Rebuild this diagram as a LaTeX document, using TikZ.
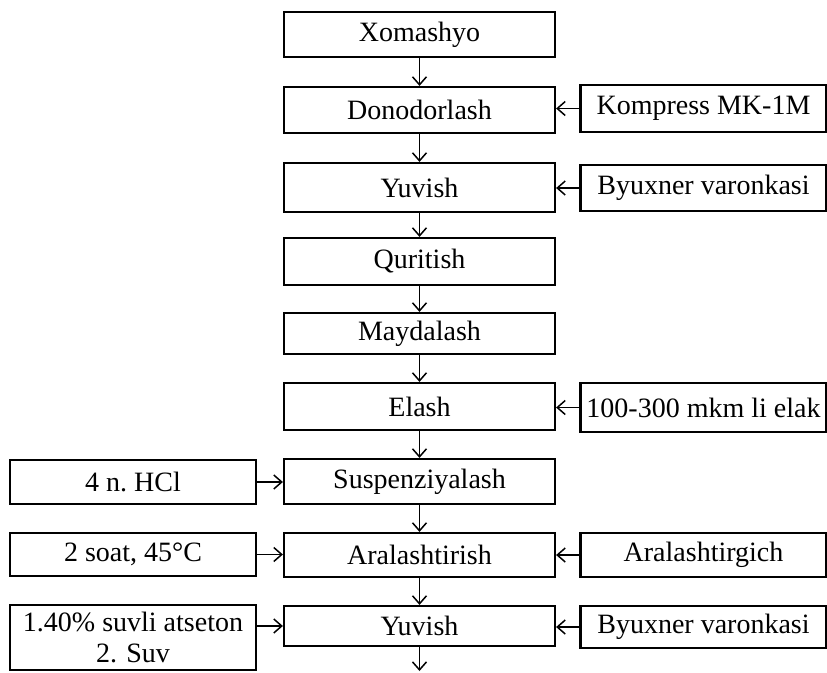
\documentclass[tikz,border=0pt]{standalone}
\usepackage{fontspec}
\setmainfont{Liberation Serif}
\usetikzlibrary{arrows.meta}
\begin{document}
\begin{tikzpicture}[x=1pt,y=-1pt,
  box/.style={draw,line width=2.2pt,rectangle,inner sep=0pt,
    font=\fontsize{28}{32}\selectfont,align=center},
  mainbox/.style={box,minimum width=271pt},
  sidebox/.style={box,minimum width=246pt},
  flow/.style={line width=1.5pt,-{Straight Barb[length=8pt,width=14pt,line width=1.5pt]}}]
\useasboundingbox (0,0) rectangle (827,672);

% main process column
\node[mainbox,minimum height=45pt] (xom)  at (419.5,34.5)  {Xomashyo};
\node[mainbox,minimum height=46pt] (don)  at (419.5,110)   {Donodorlash};
\node[mainbox,minimum height=49pt] (yuv1) at (419.5,187.5) {Yuvish};
\node[mainbox,minimum height=47pt] (qur)  at (419.5,261.5) {Quritish};
\node[mainbox,minimum height=41pt] (may)  at (419.5,333.5) {Maydalash};
\node[mainbox,minimum height=47pt] (ela)  at (419.5,406.5) {Elash};
\node[mainbox,minimum height=45pt] (sus)  at (419.5,481.5) {Suspenziyalash};
\node[mainbox,minimum height=44pt] (ara)  at (419.5,555)   {Aralashtirish};
\node[mainbox,minimum height=40pt] (yuv2) at (419.5,626)   {Yuvish};
\coordinate (out) at (419.5,671);

% equipment on the right
\node[sidebox,minimum height=47pt] (komp) at (703.5,108.5) {Kompress MK-1M};
\node[sidebox,minimum height=46pt] (byx1) at (703.5,188)   {Byuxner varonkasi};
\node[sidebox,minimum height=49pt] (elak) at (703.5,407.5) {100-300 mkm li elak};
\node[sidebox,minimum height=44pt] (arg)  at (703.5,555)   {Aralashtirgich};
\node[sidebox,minimum height=42pt] (byx2) at (703.5,627)   {Byuxner varonkasi};

% reagents and conditions on the left
\node[sidebox,minimum height=44pt] (hcl)  at (133,482)   {4 n.\ HCl};
\node[sidebox,minimum height=43pt] (soat) at (133,554.5) {2 soat, 45\char"00B0 C};
\node[sidebox,minimum height=65pt,font=\fontsize{28}{31}\selectfont] (ats) at (133,637.5)
  {1.40\% suvli atseton\\2. Suv};

% vertical flow
\draw[flow] (xom)  -- (don);
\draw[flow] (don)  -- (yuv1);
\draw[flow] (yuv1) -- (qur);
\draw[flow] (qur)  -- (may);
\draw[flow] (may)  -- (ela);
\draw[flow] (ela)  -- (sus);
\draw[flow] (sus)  -- (ara);
\draw[flow] (ara)  -- (yuv2);
\draw[flow] (yuv2) -- (out);

% side inputs
\draw[flow] (komp.west) -- (komp.west -| don.east);
\draw[flow] (byx1.west) -- (byx1.west -| yuv1.east);
\draw[flow] (elak.west) -- (elak.west -| ela.east);
\draw[flow] (arg.west)  -- (arg.west -| ara.east);
\draw[flow] (byx2.west) -- (byx2.west -| yuv2.east);
\draw[flow] (hcl.east)  -- (hcl.east -| sus.west);
\draw[flow] (soat.east) -- (soat.east -| ara.west);
\draw[flow] (yuv2.west -| ats.east) -- (yuv2.west);
\end{tikzpicture}
\end{document}
